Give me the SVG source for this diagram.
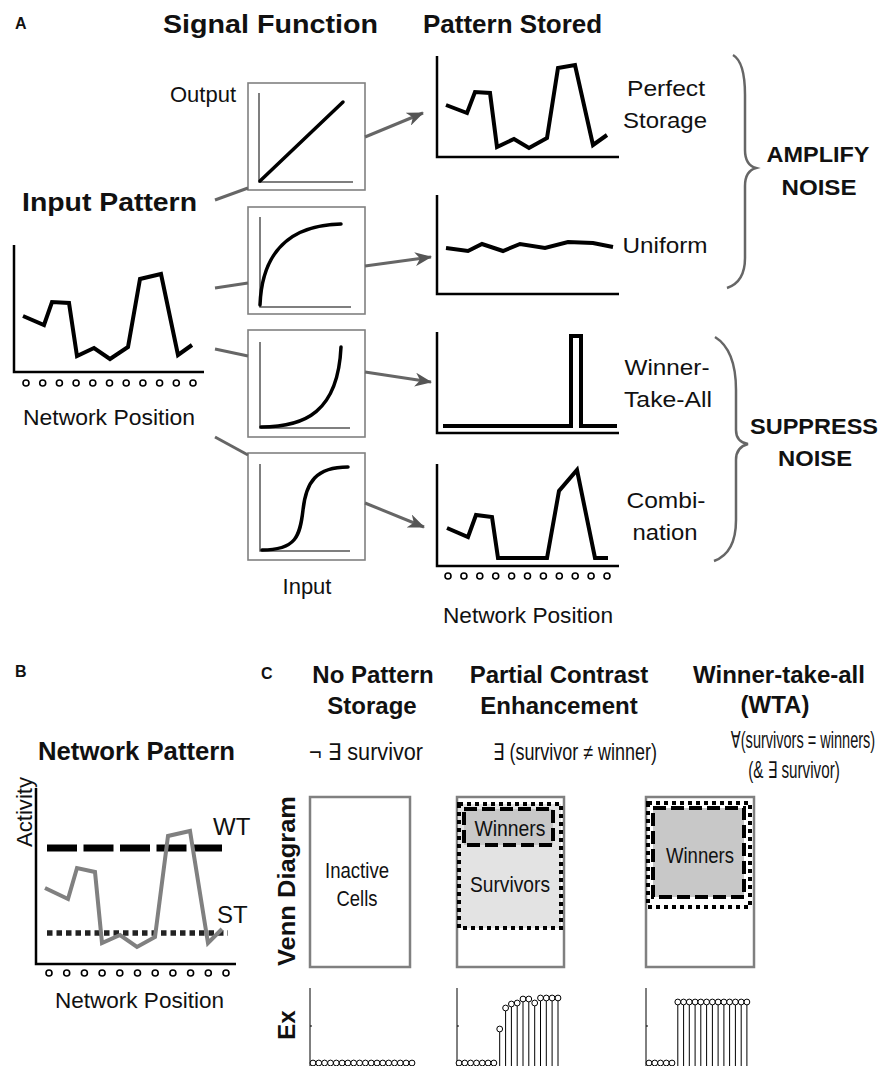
<svg xmlns="http://www.w3.org/2000/svg" width="882" height="1066" viewBox="0 0 882 1066">
<defs>
<style>
text{font-family:"Liberation Sans","DejaVu Sans",Arial,sans-serif;fill:#111}
.b{font-weight:bold}
.h{font-size:26px;font-weight:bold}
.hc{font-size:24px;font-weight:bold}
.l{font-size:22px}
.f{font-size:23px}
.m{text-anchor:middle}
.sfbox{fill:#fff;stroke:#808080;stroke-width:1.6}
.sfax{fill:none;stroke:#555;stroke-width:1.5}
.curve{fill:none;stroke:#000;stroke-width:3.5;stroke-linecap:round}
.ax{fill:none;stroke:#000;stroke-width:2.5}
.pat{fill:none;stroke:#000;stroke-width:4}
.dot{fill:#fff;stroke:#000;stroke-width:1.6}
.conn{stroke:#666;stroke-width:3;fill:none}
.brace{fill:none;stroke:#666;stroke-width:2.5}
.venn{fill:#fff;stroke:#808080;stroke-width:2.5}
.surv{fill:#e3e3e3;stroke:#000;stroke-width:4;stroke-dasharray:4 4}
.survw{fill:none;stroke:#000;stroke-width:4;stroke-dasharray:4 4}
.win{fill:#c8c8c8;stroke:#000;stroke-width:4;stroke-dasharray:13 5}
.stem{stroke:#000;stroke-width:1}
.ec{fill:#fff;stroke:#000;stroke-width:1}
.eax{stroke:#000;stroke-width:1;fill:none}
</style>
<marker id="ah" markerWidth="18" markerHeight="14" refX="16" refY="7" orient="auto" markerUnits="userSpaceOnUse"><path d="M0,0 L17,7 L0,14 L5,7 Z" fill="#555"/></marker>
</defs>

<g id="labels-A">
<text x="15" y="29" class="b" font-size="16">A</text>
<text x="163" y="33" class="h" textLength="215" lengthAdjust="spacingAndGlyphs">Signal Function</text>
<text x="423" y="33" class="h">Pattern Stored</text>
<text x="170" y="102" class="l">Output</text>
<text x="307" y="594" class="l m">Input</text>
</g>

<g id="input-pattern">
<text x="22" y="211" class="h" textLength="175" lengthAdjust="spacingAndGlyphs">Input Pattern</text>
<polyline class="ax" points="14,245 14,372 204,372"/>
<polyline class="pat" points="23,316 44,325 52,302 69,303 77,356 94,348 110,359 128,347 140,279 161,274 178,355 192,345"/>
<g class="dot"><circle cx="26" cy="383" r="3"/><circle cx="42.7" cy="383" r="3"/><circle cx="59.4" cy="383" r="3"/><circle cx="76.1" cy="383" r="3"/><circle cx="92.8" cy="383" r="3"/><circle cx="109.5" cy="383" r="3"/><circle cx="126.2" cy="383" r="3"/><circle cx="142.9" cy="383" r="3"/><circle cx="159.6" cy="383" r="3"/><circle cx="176.3" cy="383" r="3"/><circle cx="193" cy="383" r="3"/></g>
<text x="23" y="425" class="l" textLength="172" lengthAdjust="spacingAndGlyphs">Network Position</text>
</g>

<g id="sf-linear">
<rect class="sfbox" x="248" y="83" width="117" height="107"/>
<polyline class="sfax" points="259,93 259,182 353,182"/>
<path class="curve" d="M260,181 L343,102"/>
</g>
<g id="sf-saturating">
<rect class="sfbox" x="248" y="207" width="117" height="107"/>
<polyline class="sfax" points="260,217 260,307 351,307"/>
<path class="curve" d="M260,305 C262,252 290,225 341,224"/>
</g>
<g id="sf-expansive">
<rect class="sfbox" x="248" y="330" width="117" height="107"/>
<polyline class="sfax" points="260,342 260,428 350,428"/>
<path class="curve" d="M261,427 C305,427 338,412 341,347"/>
</g>
<g id="sf-sigmoid">
<rect class="sfbox" x="248" y="453" width="117" height="107"/>
<polyline class="sfax" points="260,464 260,551 350,551"/>
<path class="curve" d="M262,550 C296,550 300,536 303,510 C306,482 316,467 348,467"/>
</g>

<g id="out-perfect">
<polyline class="ax" points="437,56 437,157 619,157"/>
<polyline class="pat" points="446,105 467,113 475,92 490,93 497,147 514,139 529,148 547,138 558,68 575,65 593,145 607,135"/>
<text x="666" y="96" class="l m" textLength="78" lengthAdjust="spacingAndGlyphs">Perfect</text>
<text x="665" y="128" class="l m" textLength="84" lengthAdjust="spacingAndGlyphs">Storage</text>
</g>
<g id="out-uniform">
<polyline class="ax" points="437,195 437,294 619,294"/>
<polyline class="pat" points="446,248 468,251 482,244 503,251 520,244 545,248 568,242 593,243 613,247"/>
<text x="665" y="253" class="l m" textLength="85" lengthAdjust="spacingAndGlyphs">Uniform</text>
</g>
<g id="out-wta">
<polyline class="ax" points="437,332 437,433 619,433"/>
<polyline class="pat" points="443,426 571,426 571,336 581,336 581,426 617,426"/>
<text x="667" y="375" class="l m" textLength="85" lengthAdjust="spacingAndGlyphs">Winner-</text>
<text x="668" y="407" class="l m" textLength="88" lengthAdjust="spacingAndGlyphs">Take-All</text>
</g>
<g id="out-combination">
<polyline class="ax" points="437,464 437,566 619,566"/>
<polyline class="pat" points="447,528 468,537 476,515 492,517 498,558 547,558 559,491 577,470 595,558 608,558"/>
<g class="dot"><circle cx="448" cy="576" r="3"/><circle cx="463.9" cy="576" r="3"/><circle cx="479.8" cy="576" r="3"/><circle cx="495.7" cy="576" r="3"/><circle cx="511.6" cy="576" r="3"/><circle cx="527.5" cy="576" r="3"/><circle cx="543.4" cy="576" r="3"/><circle cx="559.3" cy="576" r="3"/><circle cx="575.2" cy="576" r="3"/><circle cx="591.1" cy="576" r="3"/><circle cx="607" cy="576" r="3"/></g>
<text x="666" y="508" class="l m" textLength="79" lengthAdjust="spacingAndGlyphs">Combi-</text>
<text x="665" y="540" class="l m" textLength="65" lengthAdjust="spacingAndGlyphs">nation</text>
<text x="443" y="623" class="l" textLength="170" lengthAdjust="spacingAndGlyphs">Network Position</text>
</g>

<g id="amplify">
<path class="brace" d="M733,55 Q745,62 745,95 L745,150 Q745,165 756,168 Q745,171 745,186 L745,258 Q745,282 727,288"/>
<text x="818" y="162" class="b m" font-size="22" textLength="103" lengthAdjust="spacingAndGlyphs">AMPLIFY</text>
<text x="819" y="195" class="b m" font-size="22" textLength="75" lengthAdjust="spacingAndGlyphs">NOISE</text>
</g>
<g id="suppress">
<path class="brace" d="M715,337 Q736,350 736,390 L736,430 Q736,442 748,444 Q736,447 736,460 L736,520 Q736,553 714,561"/>
<text x="814" y="434" class="b m" font-size="22" textLength="128" lengthAdjust="spacingAndGlyphs">SUPPRESS</text>
<text x="815" y="466" class="b m" font-size="22" textLength="74" lengthAdjust="spacingAndGlyphs">NOISE</text>
</g>

<g id="connectors">
<line class="conn" x1="215" y1="200" x2="248" y2="188"/>
<line class="conn" x1="215" y1="288" x2="248" y2="283"/>
<line class="conn" x1="215" y1="349" x2="248" y2="356"/>
<line class="conn" x1="215" y1="437" x2="248" y2="455"/>
<line class="conn" x1="365" y1="137" x2="423" y2="113" marker-end="url(#ah)"/>
<line class="conn" x1="365" y1="266" x2="431" y2="257" marker-end="url(#ah)"/>
<line class="conn" x1="365" y1="372" x2="431" y2="382" marker-end="url(#ah)"/>
<line class="conn" x1="365" y1="503" x2="424" y2="527" marker-end="url(#ah)"/>
</g>

<g id="panel-B">
<text x="15" y="677" class="b" font-size="16">B</text>
<text x="38" y="760" class="b" font-size="25" textLength="197" lengthAdjust="spacingAndGlyphs">Network Pattern</text>
<text transform="translate(32,812) rotate(-90)" class="l m" textLength="70" lengthAdjust="spacingAndGlyphs">Activity</text>
<polyline class="ax" points="36,788 36,964 236,964"/>
<line x1="47" y1="848" x2="222" y2="848" stroke="#000" stroke-width="7" stroke-dasharray="30 6.5"/>
<line x1="47" y1="933" x2="228" y2="933" stroke="#222" stroke-width="5.5" stroke-dasharray="5.5 4"/>
<polyline fill="none" stroke="#808080" stroke-width="4" points="45,888 68,899 77,868 95,872 102,943 120,935 137,947 155,937 168,836 190,831 208,943 222,929"/>
<text x="213" y="835" font-size="24">WT</text>
<text x="217" y="923" font-size="24">ST</text>
<g class="dot"><circle cx="49" cy="973" r="3"/><circle cx="66.7" cy="973" r="3"/><circle cx="84.4" cy="973" r="3"/><circle cx="102.1" cy="973" r="3"/><circle cx="119.8" cy="973" r="3"/><circle cx="137.5" cy="973" r="3"/><circle cx="155.2" cy="973" r="3"/><circle cx="172.9" cy="973" r="3"/><circle cx="190.6" cy="973" r="3"/><circle cx="208.3" cy="973" r="3"/><circle cx="226" cy="973" r="3"/></g>
<text x="55" y="1008" class="l" textLength="169" lengthAdjust="spacingAndGlyphs">Network Position</text>
</g>

<g id="panel-C-labels">
<text x="261" y="679" class="b" font-size="16">C</text>
<text transform="translate(295,881) rotate(-90)" class="hc m" textLength="170" lengthAdjust="spacingAndGlyphs">Venn Diagram</text>
<text transform="translate(295,1025) rotate(-90)" class="hc m">Ex</text>
</g>

<g id="col-no-storage">
<text x="373" y="683" class="hc m">No Pattern</text>
<text x="372" y="714" class="hc m">Storage</text>
<text x="366" y="760" class="f m" textLength="114" lengthAdjust="spacingAndGlyphs">¬ ∃ survivor</text>
<rect class="venn" x="310" y="797" width="100" height="170"/>
<text x="357" y="878" class="l m" textLength="64" lengthAdjust="spacingAndGlyphs">Inactive</text>
<text x="357" y="906" class="l m" textLength="41" lengthAdjust="spacingAndGlyphs">Cells</text>
<g id="ex-1">
<path class="eax" d="M310,988 V1066 M310,1026 h2"/>
<g class="ec"><circle cx="313" cy="1063" r="2.9"/><circle cx="318.8" cy="1063" r="2.9"/><circle cx="324.6" cy="1063" r="2.9"/><circle cx="330.5" cy="1063" r="2.9"/><circle cx="336.3" cy="1063" r="2.9"/><circle cx="342.1" cy="1063" r="2.9"/><circle cx="347.9" cy="1063" r="2.9"/><circle cx="353.7" cy="1063" r="2.9"/><circle cx="359.6" cy="1063" r="2.9"/><circle cx="365.4" cy="1063" r="2.9"/><circle cx="371.2" cy="1063" r="2.9"/><circle cx="377" cy="1063" r="2.9"/><circle cx="382.8" cy="1063" r="2.9"/><circle cx="388.7" cy="1063" r="2.9"/><circle cx="394.5" cy="1063" r="2.9"/><circle cx="400.3" cy="1063" r="2.9"/><circle cx="406.1" cy="1063" r="2.9"/><circle cx="412" cy="1063" r="2.9"/></g>
</g>
</g>

<g id="col-partial">
<text x="559" y="683" class="hc m">Partial Contrast</text>
<text x="559" y="714" class="hc m">Enhancement</text>
<text transform="translate(575,760) scale(0.78,1)" class="f m" textLength="210" lengthAdjust="spacingAndGlyphs">∃ (survivor ≠ winner)</text>
<rect class="venn" x="457" y="797" width="107" height="170"/>
<rect class="surv" x="459" y="804" width="102" height="124"/>
<rect class="win" x="464" y="809" width="89" height="36"/>
<text x="510" y="836" class="l m" textLength="71" lengthAdjust="spacingAndGlyphs">Winners</text>
<text x="510" y="892" class="l m" textLength="80" lengthAdjust="spacingAndGlyphs">Survivors</text>
<g id="ex-2">
<path class="eax" d="M457,988 V1066 M457,1026 h2"/>
<g class="stem"><line x1="499.7" y1="1032" x2="499.7" y2="1066"/><line x1="505.6" y1="1011" x2="505.6" y2="1066"/><line x1="511.4" y1="1007" x2="511.4" y2="1066"/><line x1="517.2" y1="1006" x2="517.2" y2="1066"/><line x1="523" y1="1002" x2="523" y2="1066"/><line x1="528.8" y1="1002" x2="528.8" y2="1066"/><line x1="534.7" y1="1006" x2="534.7" y2="1066"/><line x1="540.5" y1="1001" x2="540.5" y2="1066"/><line x1="546.3" y1="1001" x2="546.3" y2="1066"/><line x1="552.1" y1="1001" x2="552.1" y2="1066"/><line x1="558" y1="1001" x2="558" y2="1066"/></g>
<g class="ec"><circle cx="459" cy="1063" r="2.9"/><circle cx="464.8" cy="1063" r="2.9"/><circle cx="470.6" cy="1063" r="2.9"/><circle cx="476.5" cy="1063" r="2.9"/><circle cx="482.3" cy="1063" r="2.9"/><circle cx="488.1" cy="1063" r="2.9"/><circle cx="493.9" cy="1063" r="2.9"/><circle cx="499.7" cy="1029" r="2.9"/><circle cx="505.6" cy="1008" r="2.9"/><circle cx="511.4" cy="1004" r="2.9"/><circle cx="517.2" cy="1003" r="2.9"/><circle cx="523" cy="999" r="2.9"/><circle cx="528.8" cy="999" r="2.9"/><circle cx="534.7" cy="1003" r="2.9"/><circle cx="540.5" cy="998" r="2.9"/><circle cx="546.3" cy="998" r="2.9"/><circle cx="552.1" cy="998" r="2.9"/><circle cx="558" cy="998" r="2.9"/></g>
</g>
</g>

<g id="col-wta">
<text x="779" y="683" class="hc m">Winner-take-all</text>
<text x="775" y="713" class="hc m">(WTA)</text>
<text transform="translate(803,748) scale(0.65,1)" class="f m" textLength="222" lengthAdjust="spacingAndGlyphs">∀(survivors = winners)</text>
<text transform="translate(794,778) scale(0.65,1)" class="f m" textLength="141" lengthAdjust="spacingAndGlyphs">(&amp;  ∃ survivor)</text>
<rect class="venn" x="646" y="797" width="108" height="170"/>
<rect class="survw" x="648" y="803" width="102" height="104"/>
<rect class="win" x="653" y="808" width="91" height="89"/>
<text x="700" y="863" class="l m" textLength="68" lengthAdjust="spacingAndGlyphs">Winners</text>
<g id="ex-3">
<path class="eax" d="M646,988 V1066 M646,1026 h2"/>
<g class="stem"><line x1="677.8" y1="1005" x2="677.8" y2="1066"/><line x1="683.6" y1="1005" x2="683.6" y2="1066"/><line x1="689.3" y1="1005" x2="689.3" y2="1066"/><line x1="695.1" y1="1005" x2="695.1" y2="1066"/><line x1="700.8" y1="1005" x2="700.8" y2="1066"/><line x1="706.6" y1="1005" x2="706.6" y2="1066"/><line x1="712.4" y1="1005" x2="712.4" y2="1066"/><line x1="718.1" y1="1005" x2="718.1" y2="1066"/><line x1="723.9" y1="1005" x2="723.9" y2="1066"/><line x1="729.6" y1="1005" x2="729.6" y2="1066"/><line x1="735.4" y1="1005" x2="735.4" y2="1066"/><line x1="741.2" y1="1005" x2="741.2" y2="1066"/><line x1="746.9" y1="1005" x2="746.9" y2="1066"/></g>
<g class="ec"><circle cx="649" cy="1063" r="2.9"/><circle cx="654.8" cy="1063" r="2.9"/><circle cx="660.5" cy="1063" r="2.9"/><circle cx="666.3" cy="1063" r="2.9"/><circle cx="672" cy="1063" r="2.9"/><circle cx="677.8" cy="1002" r="2.9"/><circle cx="683.6" cy="1002" r="2.9"/><circle cx="689.3" cy="1002" r="2.9"/><circle cx="695.1" cy="1002" r="2.9"/><circle cx="700.8" cy="1002" r="2.9"/><circle cx="706.6" cy="1002" r="2.9"/><circle cx="712.4" cy="1002" r="2.9"/><circle cx="718.1" cy="1002" r="2.9"/><circle cx="723.9" cy="1002" r="2.9"/><circle cx="729.6" cy="1002" r="2.9"/><circle cx="735.4" cy="1002" r="2.9"/><circle cx="741.2" cy="1002" r="2.9"/><circle cx="746.9" cy="1002" r="2.9"/></g>
</g>
</g>
</svg>
